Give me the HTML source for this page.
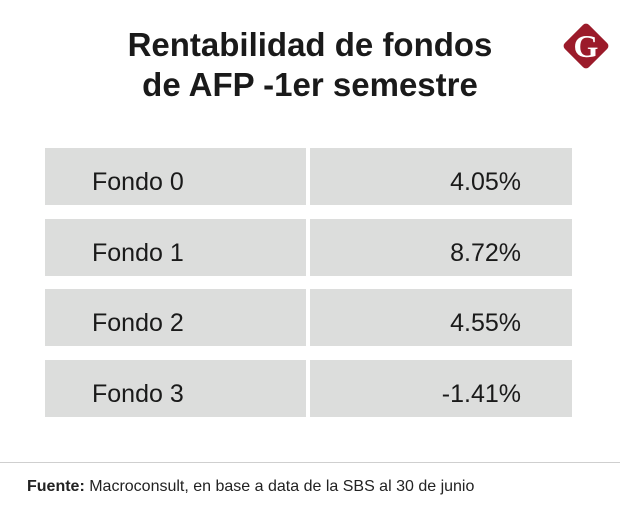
<!DOCTYPE html>
<html><head><meta charset="utf-8"><style>
body{margin:0;width:620px;height:517px;background:#fff;font-family:"Liberation Sans",sans-serif;position:relative;overflow:hidden}
#title{position:absolute;left:0;width:620px;top:25px;text-align:center;font-weight:bold;font-size:33px;line-height:40px;color:#1a1a1a}
.cell{position:absolute;background:#dcdddc;height:57px;font-size:25px;color:#1a1a1a;line-height:57px;padding-top:6px;box-sizing:border-box}
#footline{position:absolute;left:0;top:462px;width:620px;height:1px;background:#cfcfcf}
#foot{position:absolute;left:27px;top:478px;font-size:16px;color:#222}
</style></head><body>
<div id="title">Rentabilidad de fondos<br>de AFP -1er semestre</div>
<svg style="position:absolute;left:558px;top:18px" width="56" height="56">
<rect x="11" y="11" width="34" height="34" rx="4" fill="#9b1b2a" transform="rotate(45 28 28)"/>
<text x="28" y="39" text-anchor="middle" font-family="Liberation Serif" font-weight="bold" font-size="32" fill="#fff">G</text>
</svg>
<div id="table"></div>
<div id="footline"></div>
<div id="foot"><b>Fuente:</b> Macroconsult, en base a data de la SBS al 30 de junio</div>
<script>
const funds=["Fondo 0","Fondo 1","Fondo 2","Fondo 3"];
const returns=[4.05,8.72,4.55,-1.41];
const t=document.getElementById('table');
funds.forEach((f,i)=>{
  const y=148+i*70.5;
  const a=document.createElement('div');
  a.className='cell';
  
  
  a.style.cssText=`left:45px;top:${y}px;width:261px;padding-left:47px`;
  a.textContent=f;t.appendChild(a);
  const b=document.createElement('div');
  b.className='cell';
  
  
  b.style.cssText=`left:310px;top:${y}px;width:262px;text-align:right;padding-right:51px`;
  b.textContent=returns[i].toFixed(2)+'%';t.appendChild(b);
});
</script>
</body></html>
